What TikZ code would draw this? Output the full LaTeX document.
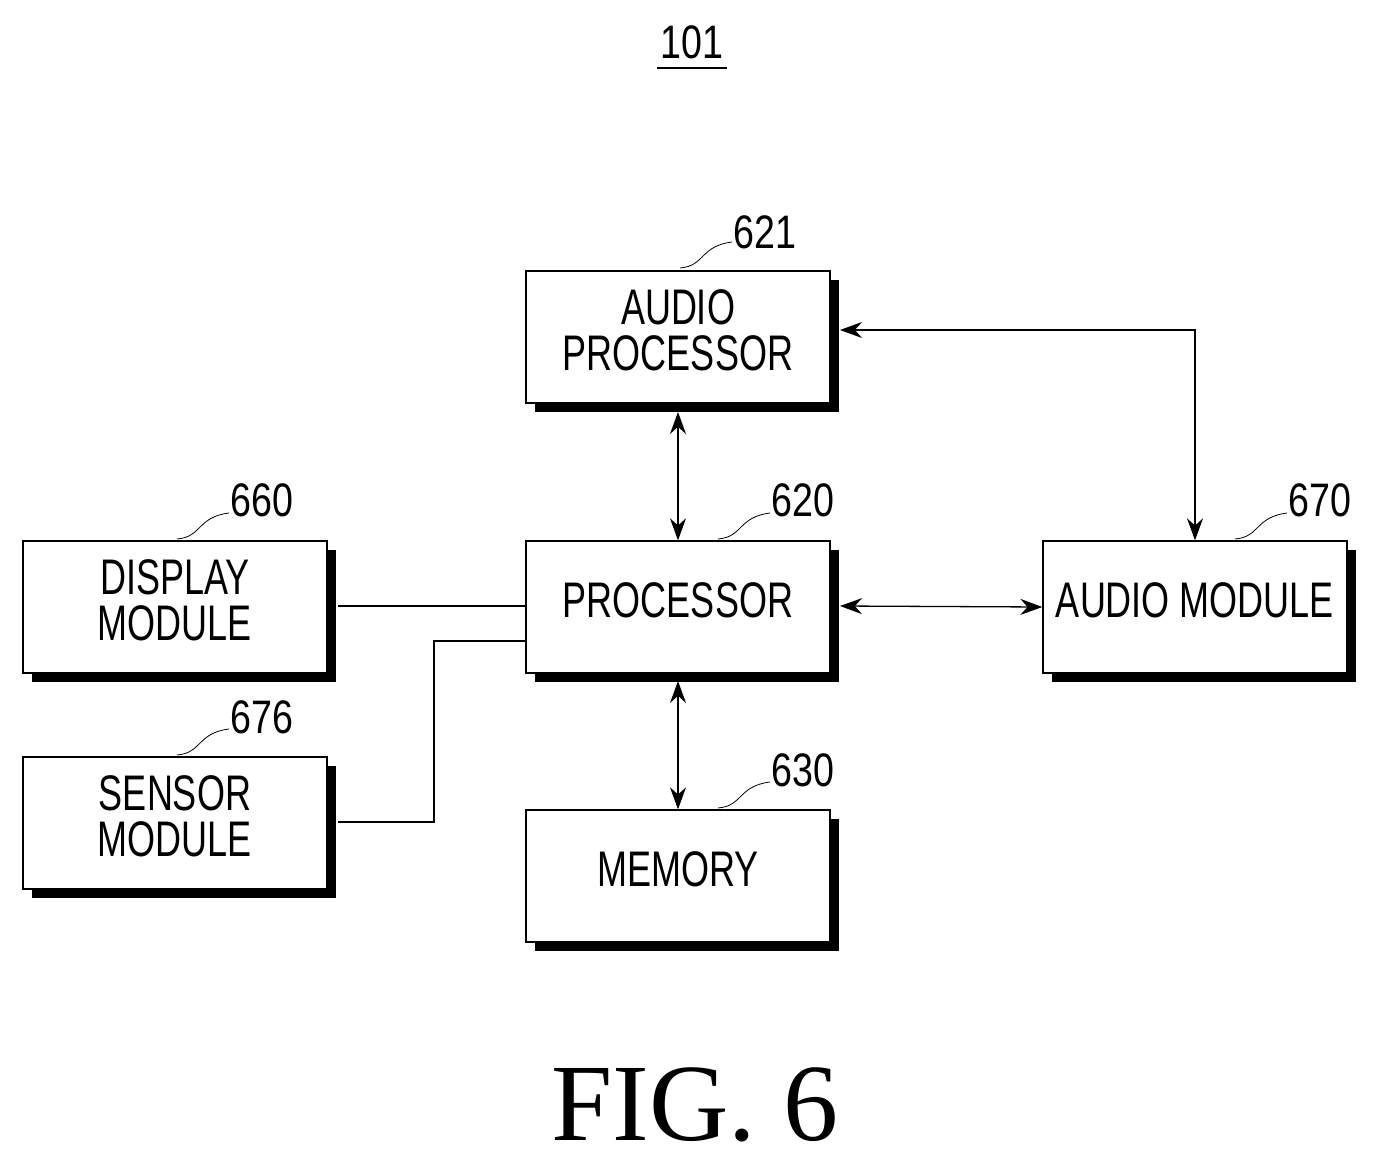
\documentclass[tikz,border=0pt]{standalone}
\usepackage{fontspec}
\setmainfont{Liberation Sans}
\newfontfamily\serifx{Liberation Serif}
\usetikzlibrary{arrows.meta}
\newcommand{\nar}[1]{\scalebox{0.72}[1]{\begin{tabular}{@{}c@{}}#1\end{tabular}}}
\newcommand{\numx}[1]{\scalebox{0.8}[1]{#1}}
\begin{document}
\begin{tikzpicture}[x=1pt,y=-1pt,
  box/.style={draw,line width=1.3pt,fill=white,minimum width=304pt,minimum height=132pt,inner sep=0pt,
    font=\fontsize{50}{52}\selectfont},
  shad/.style={fill=black,minimum width=304pt,minimum height=132pt,inner sep=0pt},
  lab/.style={font=\fontsize{47}{50}\selectfont},
  conn/.style={line width=1.3pt},
  arr/.style={conn,{Stealth[length=22pt,width=16pt]}-{Stealth[length=22pt,width=16pt]}}]
\useasboundingbox (0,0) rectangle (1379,1164);
\foreach \n/\x/\y in {ap/678/337, dm/175/607, pr/678/607, am/1195/607, sm/175/823, me/678/876}{
  \node[shad] (s\n) at (\x+9,\y+9) {};}
\node[box] (ap) at (678,337) {\nar{AUDIO\\[-6pt]PROCESSOR}};
\node[box] (dm) at (175,607) {\nar{DISPLAY\\[-6pt]MODULE}};
\node[box] (pr) at (678,607) {\nar{PROCESSOR}};
\node[box] (am) at (1195,607) {\nar{AUDIO MODULE}};
\node[box] (sm) at (175,823) {\nar{SENSOR\\[-6pt]MODULE}};
\node[box] (me) at (678,876) {\nar{MEMORY}};
% connectors
\draw[arr] (678,412) -- (pr.north);
\draw[arr] (678,681) -- (me.north);
\draw[arr] (840,606) -- (am.west);
\coordinate (c1) at (1195,330);
\draw[arr] (840,330) -- (c1) -- (am.north);
\draw[conn] (338,606) -- (526,606);
\coordinate (c2) at (434,822); \coordinate (c3) at (434,641);
\draw[conn] (338,822) -- (c2) -- (c3) -- (526,641);
% reference numerals
\foreach \t/\x/\y/\bx/\by in {621/765/232/680/268, 660/262/500/177/539, 620/803/500/718/539, 670/1320/500/1235/539, 676/262/717/177/755, 630/803/770/718/808}{
  \node[lab] (n\t) at (\x,\y) {\numx{\t}};
  \draw[line width=0.8pt] (\bx,\by) .. controls (\bx+25,\by-2) and (\bx+20,\by-22) .. (\bx+52,\by-26);
}
\node[lab] (t101) at (692,42) {\numx{101}};
\draw[line width=1.3pt] (657,68) -- (727,68);
\node[font=\serifx\fontsize{110}{110}\selectfont] (fig) at (695,1105) {FIG. 6};
\end{tikzpicture}
\end{document}
